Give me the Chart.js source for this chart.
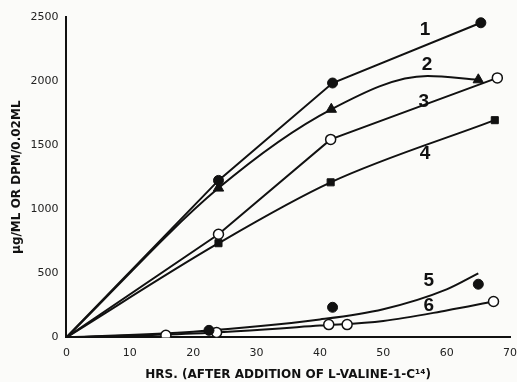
<!DOCTYPE html>
<html lang="en">
<head>
    <meta charset="UTF-8">
    <title>Valine incorporation</title>
    <script src="https://cdn.jsdelivr.net/npm/chart.js"></script>
    <style>
        body {
            margin: 0;
            background: #fbfbf9;
        }
        .wrap {
            width: 517px;
            height: 382px;
            position: relative;
        }
    </style>
</head>
<body>
    <div class="wrap"><canvas id="chart"></canvas></div>

    <script>
        // marker readings (hours, value)
        let hours1 = [24, 42, 65.4];
        let vals1 = [1225, 1985, 2455];
        let hours2 = [24, 41.8, 65];
        let vals2 = [1165, 1780, 2010];
        let hours3 = [24, 41.7, 68];
        let vals3 = [805, 1545, 2025];
        let hours4 = [24, 41.7, 67.6];
        let vals4 = [735, 1210, 1695];
        let hours5 = [22.5, 42, 65];
        let vals5 = [55, 235, 415];
        let hours6 = [15.7, 23.7, 41.4, 44.3, 67.4];
        let vals6 = [16, 38, 100, 100, 280];

        // drawn curves
        let curveHours1 = [0, 24, 42, 65.4];
        let curveVals1 = [0, 1225, 1985, 2455];
        let curveHours2 = [0, 24, 41.8, 57, 65];
        let curveVals2 = [0, 1165, 1780, 2040, 2010];
        let curveHours3 = [0, 24, 41.7, 68];
        let curveVals3 = [0, 805, 1545, 2025];
        let curveHours4 = [0, 24, 41.7, 67.6];
        let curveVals4 = [0, 735, 1210, 1695];
        let curveHours5 = [0, 20, 40, 50, 60, 65];
        let curveVals5 = [0, 45, 140, 220, 375, 500];
        let curveHours6 = [0, 20, 40, 50, 60, 67.4];
        let curveVals6 = [0, 30, 92, 128, 210, 280];

        let curveNames = ['1', '2', '3', '4', '5', '6'];
        let labelHours = [56.6, 56.9, 56.4, 56.6, 57.2, 57.2];
        let labelVals = [2400, 2125, 1836, 1430, 445, 250];

        let yTicks = [0, 500, 1000, 1500, 2000, 2500];
        let xTicks = [0, 10, 20, 30, 40, 50, 60, 70];

        function pts(xs, ys) {
            return xs.map((x, i) => ({ x: x, y: ys[i] }));
        }

        function curve(xs, ys, smooth) {
            return {
                type: 'line', data: pts(xs, ys), borderColor: '#111', borderWidth: 2,
                pointRadius: 0, tension: smooth ? 0.4 : 0, fill: false, order: 2,
                cubicInterpolationMode: smooth ? 'monotone' : 'default'
            };
        }

        function markers(xs, ys, style, filled, r) {
            return {
                type: 'scatter', data: pts(xs, ys), pointStyle: style, pointRadius: r,
                backgroundColor: filled ? '#111' : '#fff', borderColor: '#111',
                borderWidth: filled ? 1 : 1.5, order: 1
            };
        }

        let curveLabels = {
            id: 'curveLabels',
            afterDatasetsDraw(chart) {
                let ctx = chart.ctx;
                let xs = chart.scales.x, ys = chart.scales.y;
                ctx.save();
                ctx.fillStyle = '#111';
                ctx.font = 'bold 19px "Liberation Sans Narrow", "Liberation Sans", sans-serif';
                ctx.textAlign = 'center';
                ctx.textBaseline = 'middle';
                curveNames.forEach((n, i) => {
                    ctx.fillText(n, xs.getPixelForValue(labelHours[i]), ys.getPixelForValue(labelVals[i]));
                });
                ctx.restore();
            }
        };

        new Chart(document.getElementById('chart'), {
            data: {
                datasets: [
                    curve(curveHours1, curveVals1, false),
                    curve(curveHours2, curveVals2, true),
                    curve(curveHours3, curveVals3, false),
                    curve(curveHours4, curveVals4, true),
                    curve(curveHours5, curveVals5, true),
                    curve(curveHours6, curveVals6, true),
                    markers(hours1, vals1, 'circle', true, 5),
                    markers(hours2, vals2, 'triangle', true, 6),
                    markers(hours3, vals3, 'circle', false, 5),
                    markers(hours4, vals4, 'rect', true, 5),
                    markers(hours5, vals5, 'circle', true, 5),
                    markers(hours6, vals6, 'circle', false, 5)
                ]
            },
            options: {
                responsive: true,
                maintainAspectRatio: false,
                animation: false,
                layout: { padding: { top: 17, right: 0, left: 10, bottom: 0 } },
                plugins: { legend: { display: false }, tooltip: { enabled: false } },
                scales: {
                    x: {
                        type: 'linear', min: 0, max: 70,
                        afterBuildTicks: s => { s.ticks = xTicks.map(v => ({ value: v })); },
                        afterFit: s => { s.paddingRight = 6; },
                        grid: { display: false, drawTicks: true, tickLength: 5, tickColor: '#111' },
                        border: { color: '#111', width: 2 },
                        ticks: { color: '#222', font: { family: 'DejaVu Sans', size: 11 }, padding: 4, maxRotation: 0, callback: v => String(v) },
                        title: {
                            display: true, text: 'HRS. (AFTER ADDITION OF L-VALINE-1-C¹⁴)', color: '#111',
                            font: { family: 'DejaVu Sans', size: 12, weight: 'bold' }, padding: { top: 4, bottom: 0 }
                        }
                    },
                    y: {
                        type: 'linear', min: 0, max: 2500,
                        afterBuildTicks: s => { s.ticks = yTicks.map(v => ({ value: v })); },
                        grid: { display: false, drawTicks: true, tickLength: 6, tickColor: '#111' },
                        border: { color: '#111', width: 2 },
                        ticks: { color: '#222', font: { family: 'DejaVu Sans', size: 11 }, padding: 2, callback: v => String(v) },
                        title: {
                            display: true, text: 'µg/ML OR DPM/0.02ML', color: '#111',
                            font: { family: 'DejaVu Sans', size: 12, weight: 'bold' }, padding: { top: 0, bottom: 4 }
                        }
                    }
                }
            },
            plugins: [curveLabels]
        });
    </script>
</body>
</html>
